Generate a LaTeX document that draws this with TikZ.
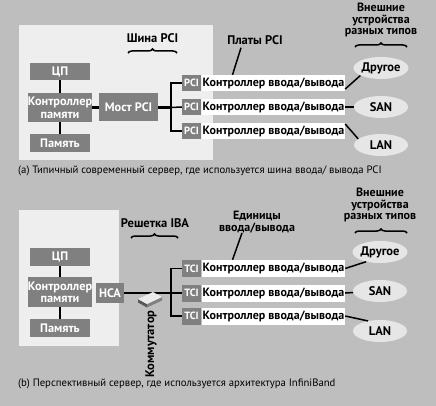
\documentclass[tikz,border=0pt]{standalone}
\usepackage{fontspec}
\setmainfont{PT Sans}
\usetikzlibrary{shapes.geometric,decorations.pathreplacing,calc}
\definecolor{bggray}{HTML}{BEBEBE}
\definecolor{panel}{HTML}{EEEEEE}
\definecolor{boxgray}{HTML}{808080}
\definecolor{ellgray}{HTML}{E6E6E6}
\begin{document}
\begin{tikzpicture}[x=1pt,y=-1pt,
  dbox/.style={fill=boxgray,text=white,font=\bfseries\fontsize{12.3}{12.5}\selectfont,inner sep=0pt,align=center},
  pbox/.style={fill=boxgray,text=white,font=\bfseries\fontsize{10.5}{11}\selectfont,inner sep=0pt,minimum width=19pt,minimum height=16pt},
  lbox/.style={fill=white,text=black,font=\bfseries\fontsize{12}{12}\selectfont,inner sep=0pt,minimum width=143pt,minimum height=16pt},
  ell/.style={ellipse,fill=ellgray,text=black,font=\bfseries\fontsize{12.5}{12}\selectfont,inner sep=0pt,minimum width=54pt,minimum height=22pt},
  lbl/.style={font=\bfseries\fontsize{12.5}{12}\selectfont,inner sep=0pt,align=center},
  captxt/.style={font=\fontsize{10.7}{10}\selectfont,inner sep=0pt,anchor=west},
  wire/.style={line width=1.5pt},
  thickwire/.style={line width=2.6pt},
  brc/.style={decorate,decoration={brace,amplitude=4pt},line width=1.5pt}]
\fill[bggray] (0,0) rectangle (436,406);
\useasboundingbox (0,0) rectangle (436,406);
% ---------- (a) ----------
\fill[panel] (19,25) rectangle (213,160);
\node[dbox,minimum width=60pt,minimum height=17pt] (cpuA) at (60,71.5) {ЦП};
\node[dbox,minimum width=60pt,minimum height=29pt] (mcA) at (60,107.5) {Контроллер\\памяти};
\node[dbox,minimum width=60pt,minimum height=18pt] (memA) at (60,143) {Память};
\node[dbox,minimum width=59pt,minimum height=28pt] (bridge) at (128.5,107.5) {Мост PCI};
\draw[wire] (cpuA) -- (mcA);
\draw[wire] (mcA) -- (memA);
\draw[thickwire] (mcA) -- (bridge);
\node[pbox] (p1) at (191.5,83) {PCI};
\node[pbox] (p2) at (191.5,107) {PCI};
\node[pbox] (p3) at (191.5,131) {PCI};
\node[lbox] (l1) at (273.5,83) {Контроллер ввода/вывода};
\node[lbox] (l2) at (273.5,107) {Контроллер ввода/вывода};
\node[lbox] (l3) at (273.5,131) {Контроллер ввода/вывода};
\coordinate (busA) at (171,107.5);
\draw[thickwire] (bridge) -- (busA);
\draw[wire] (p1.west) -| (busA);
\draw[wire] (p3.west) -| (busA);
\draw[wire] (p2.west) -- (busA);
\node[ell] (e1) at (381,68) {Другое};
\node[ell] (e2) at (381,107) {SAN};
\node[ell] (e3) at (381,145) {LAN};
\draw[wire] ([yshift=-6pt]l1.east) -- (e1.200);
\draw[wire] (l2.east) -- (e2);
\draw[wire] ([yshift=7pt]l3.east) -- (e3.165);
\node[lbl] (busname) at (152.5,38) {Шина PCI};
\draw[brc] (128,53) -- (177,53);
\node[lbl] (cards) at (255,40) {Платы PCI};
\draw[wire] ([xshift=-14pt,yshift=-3pt]cards.south) -- ([xshift=-41pt]l1.north);
\node[lbl,font=\bfseries\fontsize{12}{11.5}\selectfont] (extA) at (381,20) {Внешние\\устройства\\разных типов};
\draw[brc] (355,47) -- (407,47);
\node[captxt] (capA) at (18,171) {(a) Типичный современный сервер, где используется шина ввода/ вывода PCI};
% ---------- (b) ----------
\fill[panel] (19,210) rectangle (119,346);
\node[dbox,minimum width=60pt,minimum height=18pt] (cpuB) at (60,257) {ЦП};
\node[dbox,minimum width=60pt,minimum height=30pt] (mcB) at (60,292) {Контроллер\\памяти};
\node[dbox,minimum width=60pt,minimum height=18pt] (memB) at (60,328) {Память};
\node[dbox,minimum width=28pt,minimum height=20pt] (hca) at (110,293) {HCA};
\draw[wire] (cpuB) -- (mcB);
\draw[wire] (mcB) -- (memB);
\node[pbox,minimum height=17pt] (t1) at (191.5,268.5) {TCI};
\node[pbox,minimum height=17pt] (t2) at (191.5,293) {TCI};
\node[pbox,minimum height=17pt] (t3) at (191.5,316) {TCI};
\node[lbox,minimum height=17pt] (m1) at (273.5,268.5) {Контроллер ввода/вывода};
\node[lbox,minimum height=17pt] (m2) at (273.5,293) {Контроллер ввода/вывода};
\node[lbox,minimum height=17pt] (m3) at (273.5,316) {Контроллер ввода/вывода};
\coordinate (busB) at (171,293);
\draw[wire] (hca) -- (busB);
\draw[wire] (t1.west) -| (busB);
\draw[wire] (t3.west) -| (busB);
\draw[wire] (t2.west) -- (busB);
% switch icon
\fill[gray!70!black] (138,299) -- (147,304) -- (147,307.5) -- (138,302.5) -- cycle;
\fill[gray] (147,304) -- (162,297) -- (162,300.5) -- (147,307.5) -- cycle;
\fill[white!92!black] (138,299) -- (153,292) -- (162,297) -- (147,304) -- cycle;
\node[lbl,rotate=90] (sw) at (151,344) {Коммутатор};
\node[ell] (f1) at (380,252) {Другое};
\node[ell] (f2) at (380,291) {SAN};
\node[ell] (f3) at (380,331) {LAN};
\draw[wire] (m1.east) -- (f1.215);
\draw[wire] (m2.east) -- (f2);
\draw[wire] (m3.east) -- (f3.140);
\node[lbl] (grid) at (155,223) {Решетка IBA};
\draw[brc] (131,238) -- (178,238);
\node[lbl,font=\bfseries\fontsize{12}{11.5}\selectfont] (units) at (257,222) {Единицы\\ввода/вывода};
\draw[wire] ([xshift=-15pt]units.south) -- ([xshift=-41pt]m1.north);
\node[lbl,font=\bfseries\fontsize{12}{11.5}\selectfont] (extB) at (380,205) {Внешние\\устройства\\разных типов};
\draw[brc] (355,233) -- (407,233);
\node[captxt] (capB) at (18,384) {(b) Перспективный сервер, где используется архитектура InfiniBand};
\end{tikzpicture}
\end{document}
